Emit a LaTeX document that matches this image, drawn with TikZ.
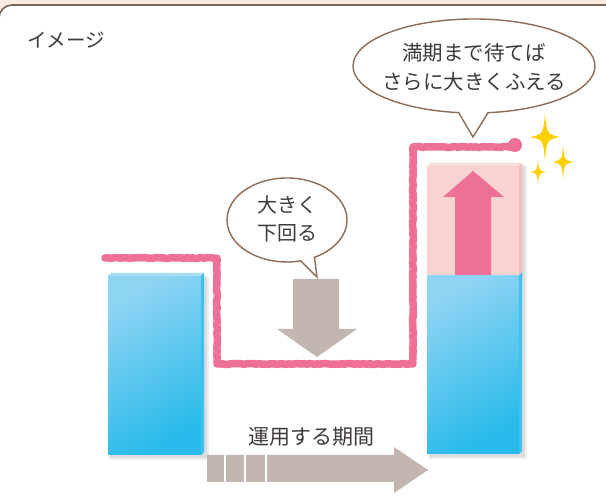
\documentclass[tikz,border=0pt]{standalone}
\usepackage{fontspec}
\setmainfont{Noto Sans CJK JP}
\usetikzlibrary{shapes.callouts,decorations.pathmorphing}
\definecolor{peach}{HTML}{FBEADF}
\definecolor{framebrown}{HTML}{7E6356}
\definecolor{bubblebrown}{HTML}{8C6C55}
\definecolor{txtgrey}{HTML}{3E3A39}
\definecolor{barlight}{HTML}{8FD4F3}
\definecolor{bardark}{HTML}{28BAEA}
\definecolor{bluetop}{HTML}{A8DEF6}
\definecolor{blueside}{HTML}{3CC2EE}
\definecolor{pinkbar}{HTML}{F9D3D2}
\definecolor{pinkside}{HTML}{F3C0C1}
\definecolor{pinkarrow}{HTML}{EF7097}
\definecolor{greyarrow}{HTML}{C3B6B1}
\definecolor{sparkyellow}{HTML}{FFD000}
\tikzset{
  bubble/.style = {ellipse callout, draw=bubblebrown, line width=1.4pt,
                   fill=white, inner sep=0pt, callout pointer arc=14},
  txt/.style = {text=txtgrey, align=center, inner sep=0pt},
  bluebar/.style = {top color=barlight, bottom color=bardark, shading angle=30},
  barshadow/.style = {black, opacity=0.07},
  trend/.style = {draw=pinkarrow, line width=7.5pt, line join=round, line cap=round,
                  decorate, decoration={random steps, segment length=2.5pt, amplitude=0.5pt}}
}
\newcommand{\sparkle}[4]{%
  \fill[sparkyellow] (#1,#2-#4) .. controls (#1+0.12*#3,#2-0.12*#4) .. (#1+#3,#2)
    .. controls (#1+0.12*#3,#2+0.12*#4) .. (#1,#2+#4)
    .. controls (#1-0.12*#3,#2+0.12*#4) .. (#1-#3,#2)
    .. controls (#1-0.12*#3,#2-0.12*#4) .. cycle;}

\begin{document}
\begin{tikzpicture}[x=1pt, y=-1pt]
	\useasboundingbox (0,0) rectangle (606,497);
	\clip (0,0) rectangle (606,497);
	\pgfmathsetseed{7}
	
	% Frame
	\fill[peach] (0,0) rectangle (606,497);
	\filldraw[fill=white, draw=framebrown, line width=1.6pt, rounded corners=13pt] (-1,5) rectangle (640,530);
	
	% Shadows
	\fill[barshadow] (109,276) rectangle (207,458);
	\fill[barshadow] (110,277) rectangle (209,460);
	\fill[barshadow] (428,165) rectangle (525,457);
	\fill[barshadow] (429,166) rectangle (527,459);
	
	% Left bar
	\fill[bluebar] (108,276) rectangle (201,455);
	\fill[bluetop] (108,276) -- (111,273) -- (204,273) -- (201,276) -- cycle;
	\fill[blueside] (201,276) -- (204,273) -- (204,452) -- (201,455) -- cycle;
	
	% Right bar
	\fill[bluebar] (427,275) rectangle (519,454);
	\fill[blueside] (519,275) -- (522,272) -- (522,451) -- (519,454) -- cycle;
	\fill[pinkbar] (427,166) rectangle (519,275);
	\fill[pinkbar!80!white] (427,166) -- (430,163) -- (522,163) -- (519,166) -- cycle;
	\fill[pinkside] (519,166) -- (522,163) -- (522,272) -- (519,275) -- cycle;
	
	% Arrows
	\fill[pinkarrow] (455,275) -- (455,197) -- (443,197) -- (473,171) -- (504,197) -- (491,197) -- (491,275) -- cycle;
	\fill[greyarrow] (293,279) -- (339,279) -- (339,329) -- (357,329) -- (317,357) -- (277,329) -- (293,329) -- cycle;
	\fill[greyarrow] (207,455) -- (394,455) -- (394,447) -- (428,470) -- (394,493) -- (394,482) -- (207,482) -- cycle;
	\foreach \x in {225,245,266}
		\fill[white] (\x-1,455) rectangle (\x+1,482);
	
	% Trend line
	\draw[trend] (105,258) -- (217,258) -- (217,364) -- (413,364) -- (413,147) -- (512,147);
	\fill[pinkarrow] (515,145) circle (7);
	
	% Sparkles
	\sparkle{545}{137}{15}{24}
	\sparkle{563}{162}{10.5}{17}
	\sparkle{538}{172}{8}{12}
	
	% Bubbles
	\node[bubble, minimum width=242pt, minimum height=94pt, callout absolute pointer={(473,137)}] (bubbleTop) at (474,66) {};
	\node[txt, font=\fontsize{20.5}{29}\selectfont] (textTop) at (474,67.5) {満期まで待てば\\さらに大きくふえる};
	\node[bubble, minimum width=120pt, minimum height=84pt, callout absolute pointer={(317,277)}] (bubbleLow) at (287,220) {};
	\node[txt, font=\fontsize{20}{28}\selectfont] (textLow) at (287,219) {大きく\\下回る};
	
	% Labels
	\node[txt, anchor=west, font=\fontsize{19.5}{22}\selectfont] (image) at (27,40) {イメージ};
	\node[txt, font=\fontsize{21}{24}\selectfont] (period) at (311,437) {運用する期間};
	
\end{tikzpicture}
\end{document}
